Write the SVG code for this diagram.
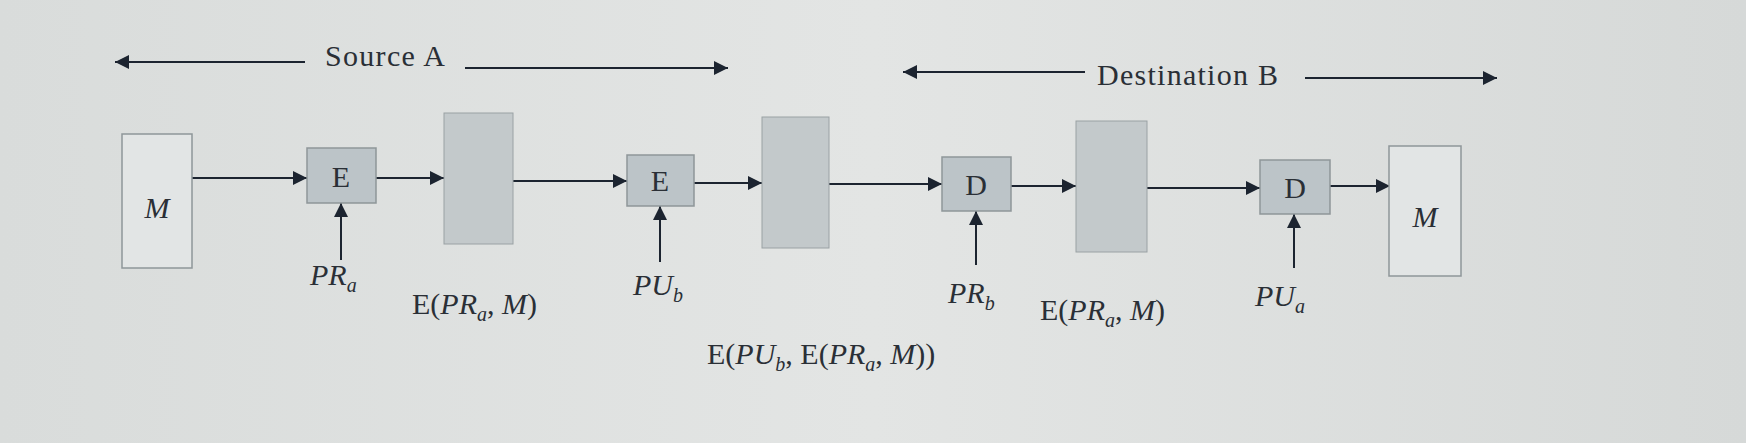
<svg xmlns="http://www.w3.org/2000/svg" width="1746" height="443" viewBox="0 0 1746 443">
<defs>
<marker id="ab" viewBox="0 0 10 10" refX="10" refY="5" markerWidth="18" markerHeight="14" markerUnits="userSpaceOnUse" orient="auto-start-reverse"><path d="M0,0 L10,5 L0,10 z" fill="#1c2430"/></marker>
<style>
text{font-family:"Liberation Serif",serif;font-size:30px;fill:#2a2f36}
.i{font-style:italic}
.s{font-size:20px;font-style:italic}
.ln{stroke:#1c2430;stroke-width:2;fill:none}
.m{fill:#e2e5e5;stroke:#8e9699;stroke-width:1.5}
.op{fill:#bcc4c8;stroke:#8e9699;stroke-width:1.5}
.g{fill:#c3c9cb;stroke:#9aa1a4;stroke-width:1}
</style>
<linearGradient id="bg" x1="0" x2="1"><stop offset="0" stop-color="#d9dcdb"/><stop offset="0.5" stop-color="#e3e5e4"/><stop offset="1" stop-color="#d6d9d8"/></linearGradient>
</defs>
<rect width="1746" height="443" fill="url(#bg)"/>
<g id="connectors">
<line class="ln" x1="305" y1="62" x2="115" y2="62" marker-end="url(#ab)"/>
<line class="ln" x1="465" y1="68" x2="728" y2="68" marker-end="url(#ab)"/>
<line class="ln" x1="1085" y1="72" x2="903" y2="72" marker-end="url(#ab)"/>
<line class="ln" x1="1305" y1="78" x2="1497" y2="78" marker-end="url(#ab)"/>
<line class="ln" x1="192" y1="178" x2="307" y2="178" marker-end="url(#ab)"/>
<line class="ln" x1="376" y1="178" x2="444" y2="178" marker-end="url(#ab)"/>
<line class="ln" x1="513" y1="181" x2="627" y2="181" marker-end="url(#ab)"/>
<line class="ln" x1="694" y1="183" x2="762" y2="183" marker-end="url(#ab)"/>
<line class="ln" x1="829" y1="184" x2="942" y2="184" marker-end="url(#ab)"/>
<line class="ln" x1="1011" y1="186" x2="1076" y2="186" marker-end="url(#ab)"/>
<line class="ln" x1="1147" y1="188" x2="1260" y2="188" marker-end="url(#ab)"/>
<line class="ln" x1="1330" y1="186" x2="1390" y2="186" marker-end="url(#ab)"/>
<line class="ln" x1="341" y1="260" x2="341" y2="203" marker-end="url(#ab)"/>
<line class="ln" x1="660" y1="262" x2="660" y2="206" marker-end="url(#ab)"/>
<line class="ln" x1="976" y1="265" x2="976" y2="211" marker-end="url(#ab)"/>
<line class="ln" x1="1294" y1="268" x2="1294" y2="214" marker-end="url(#ab)"/>
</g>
<text x="325" y="66" textLength="120">Source A</text>
<text x="1097" y="85" textLength="181">Destination B</text>
<g id="m1"><rect class="m" x="122" y="134" width="70" height="134"/><text class="i" x="157" y="218" text-anchor="middle">M</text></g>
<g id="e1"><rect class="op" x="307" y="148" width="69" height="55"/><text x="341" y="187" text-anchor="middle">E</text></g>
<g id="c1"><rect class="g" x="444" y="113" width="69" height="131"/></g>
<g id="e2"><rect class="op" x="627" y="155" width="67" height="51"/><text x="660" y="191" text-anchor="middle">E</text></g>
<g id="c2"><rect class="g" x="762" y="117" width="67" height="131"/></g>
<g id="d1"><rect class="op" x="942" y="157" width="69" height="54"/><text x="976" y="195" text-anchor="middle">D</text></g>
<g id="c3"><rect class="g" x="1076" y="121" width="71" height="131"/></g>
<g id="d2"><rect class="op" x="1260" y="160" width="70" height="54"/><text x="1295" y="198" text-anchor="middle">D</text></g>
<g id="m2"><rect class="m" x="1389" y="146" width="72" height="130"/><text class="i" x="1425" y="227" text-anchor="middle">M</text></g>
<g id="labels">
<text x="310" y="285"><tspan class="i">PR</tspan><tspan class="s" dy="7">a</tspan></text>
<text x="412" y="314">E(<tspan class="i">PR</tspan><tspan class="s" dy="7">a</tspan><tspan dy="-7">, </tspan><tspan class="i">M</tspan>)</text>
<text x="633" y="295"><tspan class="i">PU</tspan><tspan class="s" dy="7">b</tspan></text>
<text x="707" y="364">E(<tspan class="i">PU</tspan><tspan class="s" dy="7">b</tspan><tspan dy="-7">, E(</tspan><tspan class="i">PR</tspan><tspan class="s" dy="7">a</tspan><tspan dy="-7">, </tspan><tspan class="i">M</tspan>))</text>
<text x="948" y="303"><tspan class="i">PR</tspan><tspan class="s" dy="7">b</tspan></text>
<text x="1040" y="320">E(<tspan class="i">PR</tspan><tspan class="s" dy="7">a</tspan><tspan dy="-7">, </tspan><tspan class="i">M</tspan>)</text>
<text x="1255" y="306"><tspan class="i">PU</tspan><tspan class="s" dy="7">a</tspan></text>
</g>
</svg>
